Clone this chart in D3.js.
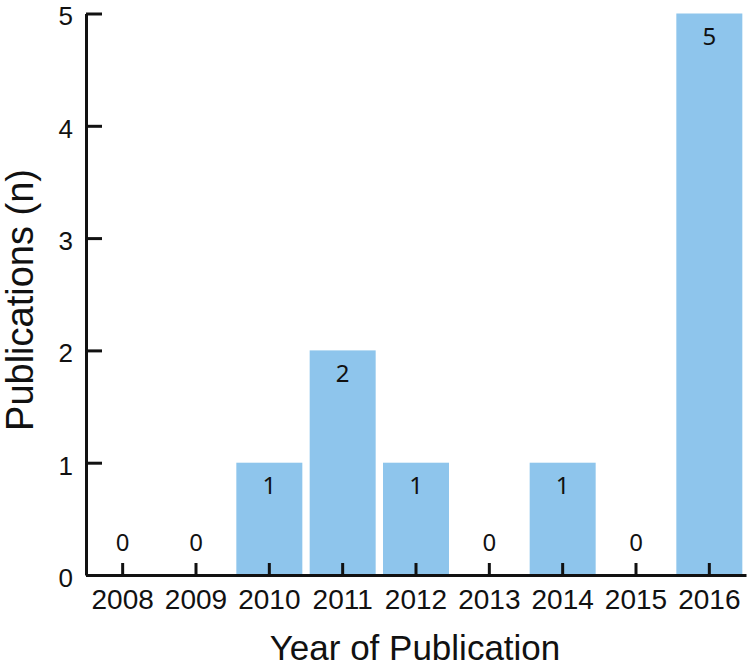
<!DOCTYPE html>
<html>
<head>
<meta charset="utf-8">
<script src="https://cdn.jsdelivr.net/npm/d3@7"></script>
<style>
  html, body { margin: 0; padding: 0; background: #fff; }
  .axis text { font-family: "Liberation Sans", Arial, sans-serif; fill: #111; }
</style>
</head>
<body>
<div class="bar-chart"></div>
<script>
// ------------------------------------------------------
const years = [ '2008', '2009', '2010', '2011', '2012', '2013', '2014', '2015', '2016' ];
const counts = [ 0, 0, 1, 2, 1, 0, 1, 0, 5 ];
const yTicks = [ 0, 1, 2, 3, 4, 5 ];
// ------------------------------------------------------
const plotWidth = 750;
const plotHeight = 667;
const barColor = '#8ec5ec';
// ------------------------------------------------------
const svg = d3.select( '.bar-chart' )
    .append( 'svg' )
    .attr( 'width', plotWidth )
    .attr( 'height', plotHeight );

const x = d3.scaleBand()
    .domain( years )
    .range( [ 86, 746 ] )
    .paddingInner( 0.1 )
    .paddingOuter( 0.05 );

const y = d3.scaleLinear()
    .domain( [ 0, 5 ] )
    .range( [ 575, 13.5 ] );

// bars
svg.selectAll( '.bar' )
    .data( counts )
    .enter()
    .append( 'rect' )
    .classed( 'bar', true )
    .attr( 'x', ( d, i ) => x( years[i] ) )
    .attr( 'width', x.bandwidth() )
    .attr( 'y', d => y( d ) )
    .attr( 'height', d => y( 0 ) - y( d ) )
    .attr( 'fill', barColor );

// value labels
svg.selectAll( '.value' )
    .data( counts )
    .enter()
    .append( 'text' )
    .classed( 'value', true )
    .attr( 'x', ( d, i ) => x( years[i] ) + x.bandwidth() / 2 )
    .attr( 'y', d => d > 0 ? y( d ) + 23 : y( 0 ) - 32 )
    .attr( 'dy', '0.35em' )
    .attr( 'text-anchor', 'middle' )
    .attr( 'font-family', '"Noto Sans", sans-serif' )
    .attr( 'font-size', '24px' )
    .attr( 'fill', '#111' )
    .text( d => d );

// y axis
const yAxis = svg.append( 'g' )
    .classed( 'axis', true )
    .attr( 'transform', 'translate(86,0)' )
    .call( d3.axisLeft( y ).tickValues( yTicks ).tickFormat( d3.format( 'd' ) )
        .tickSize( -16 ).tickSizeOuter( 0 ).tickPadding( 13 ) );
yAxis.selectAll( 'text' ).attr( 'font-size', '26px' ).attr( 'font-family', null ).attr( 'dy', '0.44em' );
yAxis.selectAll( 'line, path' ).attr( 'stroke', '#111' ).attr( 'stroke-width', 3 );

// x axis
const xAxis = svg.append( 'g' )
    .classed( 'axis', true )
    .attr( 'transform', 'translate(0,575)' )
    .call( d3.axisBottom( x ).tickSize( -12 ).tickSizeOuter( 0 ).tickPadding( 14 ) );
xAxis.selectAll( 'text' ).attr( 'font-size', '28px' ).attr( 'font-family', null );
xAxis.selectAll( 'line, path' ).attr( 'stroke', '#111' ).attr( 'stroke-width', 3 );

// axis titles
svg.append( 'text' )
    .attr( 'x', 415 )
    .attr( 'y', 660 )
    .attr( 'text-anchor', 'middle' )
    .attr( 'font-family', '"Liberation Sans", Arial, sans-serif' )
    .attr( 'font-size', '35px' )
    .attr( 'fill', '#111' )
    .text( 'Year of Publication' );

svg.append( 'text' )
    .attr( 'transform', 'translate(33,300) rotate(-90)' )
    .attr( 'text-anchor', 'middle' )
    .attr( 'font-family', '"Liberation Sans", Arial, sans-serif' )
    .attr( 'font-size', '38px' )
    .attr( 'fill', '#111' )
    .text( 'Publications (n)' );
</script>
</body>
</html>
